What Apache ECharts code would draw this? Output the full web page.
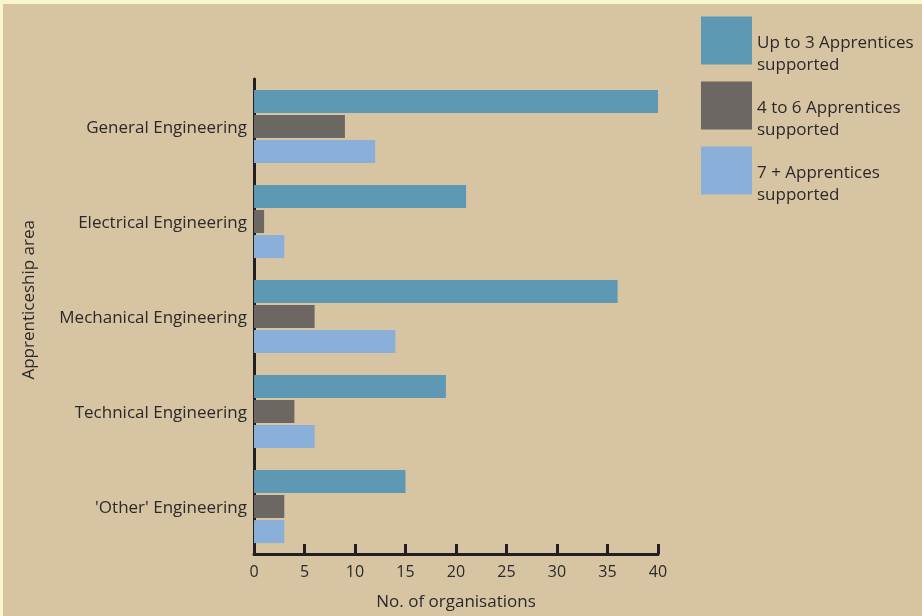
<!DOCTYPE html>
<html>
<head>
<meta charset="utf-8">
<script src="https://cdn.jsdelivr.net/npm/echarts@6/dist/echarts.min.js"></script>
<style>
  html, body { margin: 0; padding: 0; background: #f9f6cc; }
  #frame { position: absolute; left: 3px; top: 4px; width: 919px; height: 612px; background: #d7c4a2; }
  #chart { width: 922px; height: 616px; position: absolute; left: -3px; top: -4px; }
</style>
</head>
<body>
<div id="frame"><div id="chart"></div></div>
<script>
// Apprenticeship areas (top to bottom)
const categories = [
  'General Engineering',
  'Electrical Engineering',
  'Mechanical Engineering',
  'Technical Engineering',
  "'Other' Engineering"
];
const seriesNames = [
  'Up to 3 Apprentices\nsupported',
  '4 to 6 Apprentices\nsupported',
  '7 + Apprentices\nsupported'
];
// Number of organisations per area
const upTo3 = [40, 21, 36, 19, 15];
const fourTo6 = [9, 1, 6, 4, 3];
const sevenPlus = [12, 3, 14, 6, 3];
const xTicks = [0, 5, 10, 15, 20, 25, 30, 35, 40];

const colors = ['#5f98b4', '#6c6762', '#8aafd9'];
const font = '"Open Sans", "Noto Sans", sans-serif';
const ink = '#2b2a2a';

const chart = echarts.init(document.getElementById('chart'));
const values = [upTo3, fourTo6, sevenPlus];

chart.setOption({
  backgroundColor: 'transparent',
  animation: false,
  color: colors,
  grid: { left: 254, right: 264, top: 79, bottom: 62, containLabel: false },
  legend: {
    orient: 'vertical',
    left: 701,
    top: 5,
    padding: 0,
    itemWidth: 51,
    itemHeight: 48,
    itemGap: -6,
    icon: 'rect',
    data: seriesNames,
    // an empty spacer line sits above the two text lines so the label hangs below the swatch centre
    formatter: function (name) {
      const lines = name.split('\n');
      return '{e|}\n{t|' + lines[0] + '}\n{t|' + lines[1] + '}';
    },
    textStyle: {
      fontFamily: font,
      fontSize: 17,
      color: ink,
      rich: {
        e: { height: 27, lineHeight: 27, fontSize: 17 },
        t: { fontFamily: font, fontSize: 17, color: ink, lineHeight: 22, height: 22 }
      }
    }
  },
  xAxis: {
    type: 'value',
    min: xTicks[0],
    max: xTicks[xTicks.length - 1],
    interval: 5,
    name: 'No. of organisations',
    nameLocation: 'middle',
    nameGap: 40,
    nameTextStyle: { fontFamily: font, fontSize: 17, color: ink },
    axisLine: { show: true, lineStyle: { color: '#231f20', width: 3 } },
    axisTick: { show: true, inside: true, length: 10, lineStyle: { color: '#231f20', width: 3 } },
    axisLabel: { fontFamily: font, fontSize: 16, color: ink, margin: 10 },
    splitLine: { show: false }
  },
  yAxis: {
    type: 'category',
    inverse: true,
    data: categories,
    axisLine: { show: true, lineStyle: { color: '#231f20', width: 3 } },
    axisTick: { show: false },
    axisLabel: {
      fontFamily: font, fontSize: 17, color: ink, margin: 7,
      // nudge the category names slightly below the band centre
      formatter: function (v) { return '{c|' + v + '}'; },
      rich: { c: { fontFamily: font, fontSize: 17, color: ink, padding: [4, 0, 0, 0] } }
    }
  },
  graphic: [{
    type: 'text',
    left: 21,
    top: 220,
    rotation: Math.PI / 2,
    style: {
      text: 'Apprenticeship area',
      fontFamily: font,
      fontSize: 17,
      fill: ink
    }
  }],
  series: seriesNames.map((name, i) => ({
    name: name,
    type: 'bar',
    data: values[i],
    barWidth: 23,
    barGap: '9%',
    barCategoryGap: '23%',
    itemStyle: { color: colors[i] }
  }))
});
</script>
</body>
</html>
